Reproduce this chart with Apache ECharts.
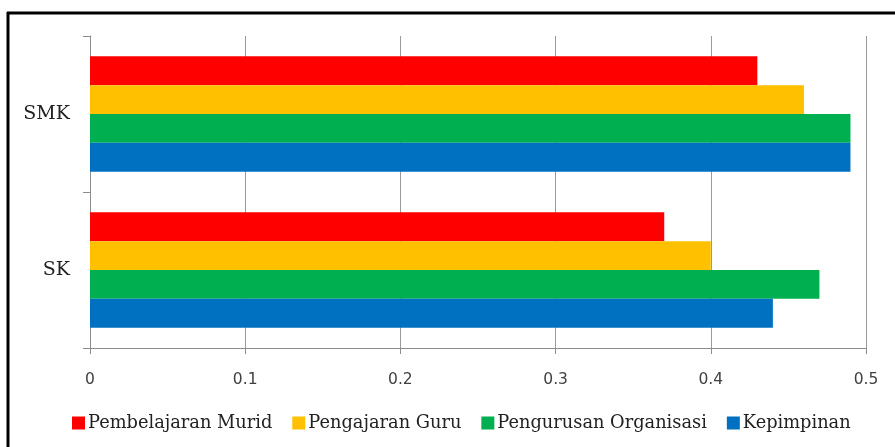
<!DOCTYPE html>
<html><head><meta charset="utf-8">
<script src="https://cdn.jsdelivr.net/npm/echarts@6/dist/echarts.min.js"></script>
<style>html,body{margin:0;padding:0;background:#fff}#c{width:895px;height:447px}</style>
</head><body><div id="c"></div>
<script>
const categories = ['SK', 'SMK'];
const seriesNames = ['Pembelajaran Murid', 'Pengajaran Guru', 'Pengurusan Organisasi', 'Kepimpinan'];
const pembelajaranMurid = [0.37, 0.43];
const pengajaranGuru = [0.40, 0.46];
const pengurusanOrganisasi = [0.47, 0.49];
const kepimpinan = [0.44, 0.49];
const xTicks = [0, 0.1, 0.2, 0.3, 0.4, 0.5];

const colors = {
  'Pembelajaran Murid': '#FF0000',
  'Pengajaran Guru': '#FFC000',
  'Pengurusan Organisasi': '#00B050',
  'Kepimpinan': '#0070C0'
};
const valuesByName = {
  'Pembelajaran Murid': pembelajaranMurid,
  'Pengajaran Guru': pengajaranGuru,
  'Pengurusan Organisasi': pengurusanOrganisasi,
  'Kepimpinan': kepimpinan
};

const chart = echarts.init(document.getElementById('c'), null, {renderer: 'canvas'});
chart.setOption({
  animation: false,
  backgroundColor: '#fff',
  grid: {left: 90, right: 29, top: 36, bottom: 99, containLabel: false},
  legend: {
    data: seriesNames,
    left: 72, top: 414, padding: 0,
    itemWidth: 13, itemHeight: 13, itemGap: 20,
    icon: 'rect',
    textStyle: {fontFamily: 'DejaVu Serif', fontSize: 17.8, color: '#222', padding: [0, 0, 0, -2]}
  },
  xAxis: {
    type: 'value', min: xTicks[0], max: xTicks[xTicks.length - 1], interval: 0.1,
    axisLine: {show: true, lineStyle: {color: '#8c8c8c', width: 1}},
    axisTick: {show: true, length: 6, lineStyle: {color: '#8c8c8c'}},
    axisLabel: {margin: 24, fontFamily: 'DejaVu Sans', fontSize: 15.5, color: '#404040'},
    splitLine: {show: true, lineStyle: {color: '#9a9a9a', width: 1}}
  },
  yAxis: {
    type: 'category', data: categories,
    axisLine: {show: true, lineStyle: {color: '#8c8c8c', width: 1}},
    axisTick: {show: true, length: 7, lineStyle: {color: '#8c8c8c'}},
    axisLabel: {margin: 20, fontFamily: 'DejaVu Serif', fontSize: 19, color: '#222'},
    splitLine: {show: false}
  },
  series: seriesNames.map(n => ({
    name: n, type: 'bar', data: valuesByName[n],
    itemStyle: {color: colors[n]},
    barGap: '0%', barCategoryGap: '26%'
  })),
  graphic: [
    {type: 'line', shape: {x1: 7, y1: 13, x2: 895, y2: 13}, style: {stroke: '#000', lineWidth: 3}},
    {type: 'line', shape: {x1: 8, y1: 12, x2: 8, y2: 447}, style: {stroke: '#000', lineWidth: 3}}
  ]
});
</script></body></html>
